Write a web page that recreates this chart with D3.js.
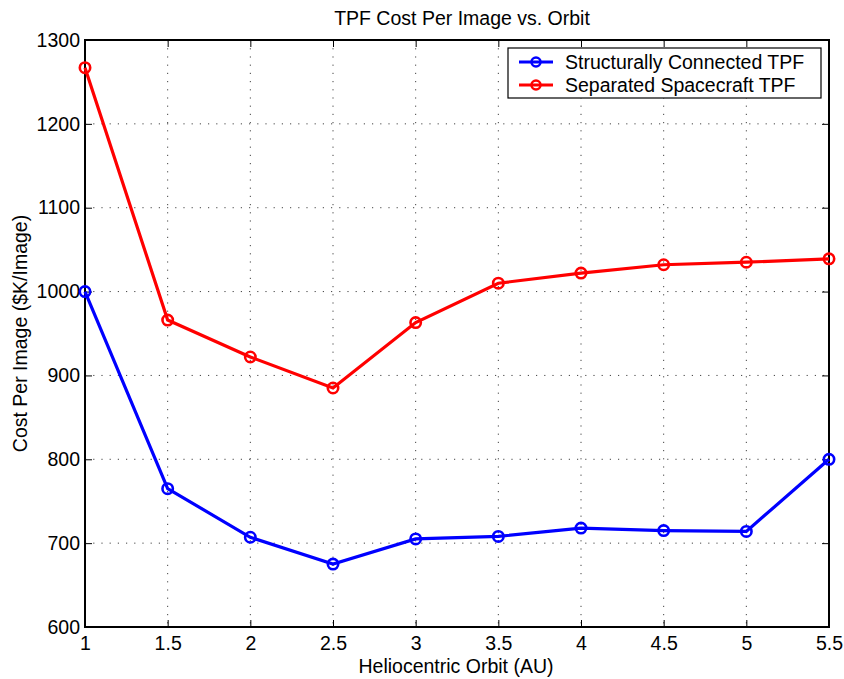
<!DOCTYPE html>
<html>
<head>
<meta charset="utf-8">
<script src="https://cdn.jsdelivr.net/npm/d3@7"></script>
<style>
  body { margin: 0; background: #fff; }
  svg text { font-family: "Liberation Sans", Arial, sans-serif; fill: #000; }
</style>
</head>
<body>
<svg width="844" height="679"></svg>
<script>
var orbits = [1, 1.5, 2, 2.5, 3, 3.5, 4, 4.5, 5, 5.5];
var structCost = [1000, 765, 707, 675, 705, 708, 718, 715, 714, 800];
var sepCost = [1267, 966, 922, 885, 963, 1010, 1022, 1032, 1035, 1039];
var xTicks = [1, 1.5, 2, 2.5, 3, 3.5, 4, 4.5, 5, 5.5];
var yTicks = [600, 700, 800, 900, 1000, 1100, 1200, 1300];

var series = [
    { name: "Structurally Connected TPF", color: "#0000ff", values: structCost },
    { name: "Separated Spacecraft TPF", color: "#ff0000", values: sepCost }
];

var svg = d3.select("svg");
var plotLeft = 85, plotRight = 829, plotTop = 40, plotBottom = 627;
var fontSize = "19.5px";

var x = d3.scaleLinear().domain([1, 5.5]).range([plotLeft, plotRight]);
var y = d3.scaleLinear().domain([600, 1300]).range([plotBottom, plotTop]);

// dotted grid
var grid = svg.append("g").attr("stroke", "#444").attr("stroke-width", 1)
    .attr("stroke-dasharray", "1.2,7");
grid.selectAll("line.gx")
    .data(xTicks.slice(1, -1))
    .enter()
    .append("line")
    .attr("x1", function (d) { return x(d); })
    .attr("x2", function (d) { return x(d); })
    .attr("y1", plotTop)
    .attr("y2", plotBottom);
grid.selectAll("line.gy")
    .data(yTicks.slice(1, -1))
    .enter()
    .append("line")
    .attr("x1", plotLeft)
    .attr("x2", plotRight)
    .attr("y1", function (d) { return y(d); })
    .attr("y2", function (d) { return y(d); });

// axes, ticks on all four sides
var xAxis = svg.append("g")
    .attr("transform", "translate(0," + plotBottom + ")")
    .call(d3.axisBottom(x).tickValues(xTicks).tickSizeInner(-7).tickSizeOuter(0).tickPadding(9)
        .tickFormat(d3.format("")));
var yAxis = svg.append("g")
    .attr("transform", "translate(" + plotLeft + ",0)")
    .call(d3.axisLeft(y).tickValues(yTicks).tickSizeInner(-7).tickSizeOuter(0).tickPadding(5)
        .tickFormat(d3.format("d")));
var xTop = svg.append("g")
    .attr("transform", "translate(0," + plotTop + ")")
    .call(d3.axisTop(x).tickValues(xTicks).tickSizeInner(-7).tickSizeOuter(0).tickFormat(""));
var yRight = svg.append("g")
    .attr("transform", "translate(" + plotRight + ",0)")
    .call(d3.axisRight(y).tickValues(yTicks).tickSizeInner(-7).tickSizeOuter(0).tickFormat(""));

[xAxis, yAxis, xTop, yRight].forEach(function (a) {
    a.select(".domain").remove();
    a.selectAll("text").style("font-size", fontSize).attr("fill", "#000");
    a.selectAll(".tick line").attr("stroke", "#000");
});

svg.append("rect")
    .attr("x", plotLeft).attr("y", plotTop)
    .attr("width", plotRight - plotLeft).attr("height", plotBottom - plotTop)
    .attr("fill", "none").attr("stroke", "#000").attr("stroke-width", 2);

// lines + circle markers
var line = d3.line()
    .x(function (d, i) { return x(orbits[i]); })
    .y(function (d) { return y(d); });

series.forEach(function (s) {
    svg.append("path")
        .datum(s.values)
        .attr("fill", "none")
        .attr("stroke", s.color)
        .attr("stroke-width", 3.2)
        .attr("d", line);
    svg.append("g").selectAll("circle")
        .data(s.values)
        .enter()
        .append("circle")
        .attr("cx", function (d, i) { return x(orbits[i]); })
        .attr("cy", function (d) { return y(d); })
        .attr("r", 5.2)
        .attr("fill", "none")
        .attr("stroke", s.color)
        .attr("stroke-width", 2.6);
});

// labels
svg.append("text")
    .attr("x", (plotLeft + plotRight) / 2 + 5).attr("y", 25)
    .attr("text-anchor", "middle")
    .style("font-size", fontSize)
    .text("TPF Cost Per Image vs. Orbit");
svg.append("text")
    .attr("x", (plotLeft + plotRight) / 2 - 1).attr("y", 673)
    .attr("text-anchor", "middle")
    .style("font-size", fontSize)
    .text("Heliocentric Orbit (AU)");
svg.append("text")
    .attr("transform", "translate(27," + ((plotTop + plotBottom) / 2) + ") rotate(-90)")
    .attr("text-anchor", "middle")
    .style("font-size", fontSize)
    .text("Cost Per Image ($K/Image)");

// legend
var lg = svg.append("g").attr("transform", "translate(508,48)");
lg.append("rect")
    .attr("width", 313).attr("height", 50)
    .attr("fill", "#fff").attr("stroke", "#000").attr("stroke-width", 1.2);
series.forEach(function (s, i) {
    var yy = 14 + i * 23;
    lg.append("line")
        .attr("x1", 11).attr("x2", 45).attr("y1", yy).attr("y2", yy)
        .attr("stroke", s.color).attr("stroke-width", 3.2);
    lg.append("circle")
        .attr("cx", 28).attr("cy", yy).attr("r", 4.5)
        .attr("fill", "none").attr("stroke", s.color).attr("stroke-width", 2.5);
    lg.append("text")
        .attr("x", 57).attr("y", yy + 7)
        .style("font-size", fontSize)
        .text(s.name);
});
</script>
</body>
</html>
